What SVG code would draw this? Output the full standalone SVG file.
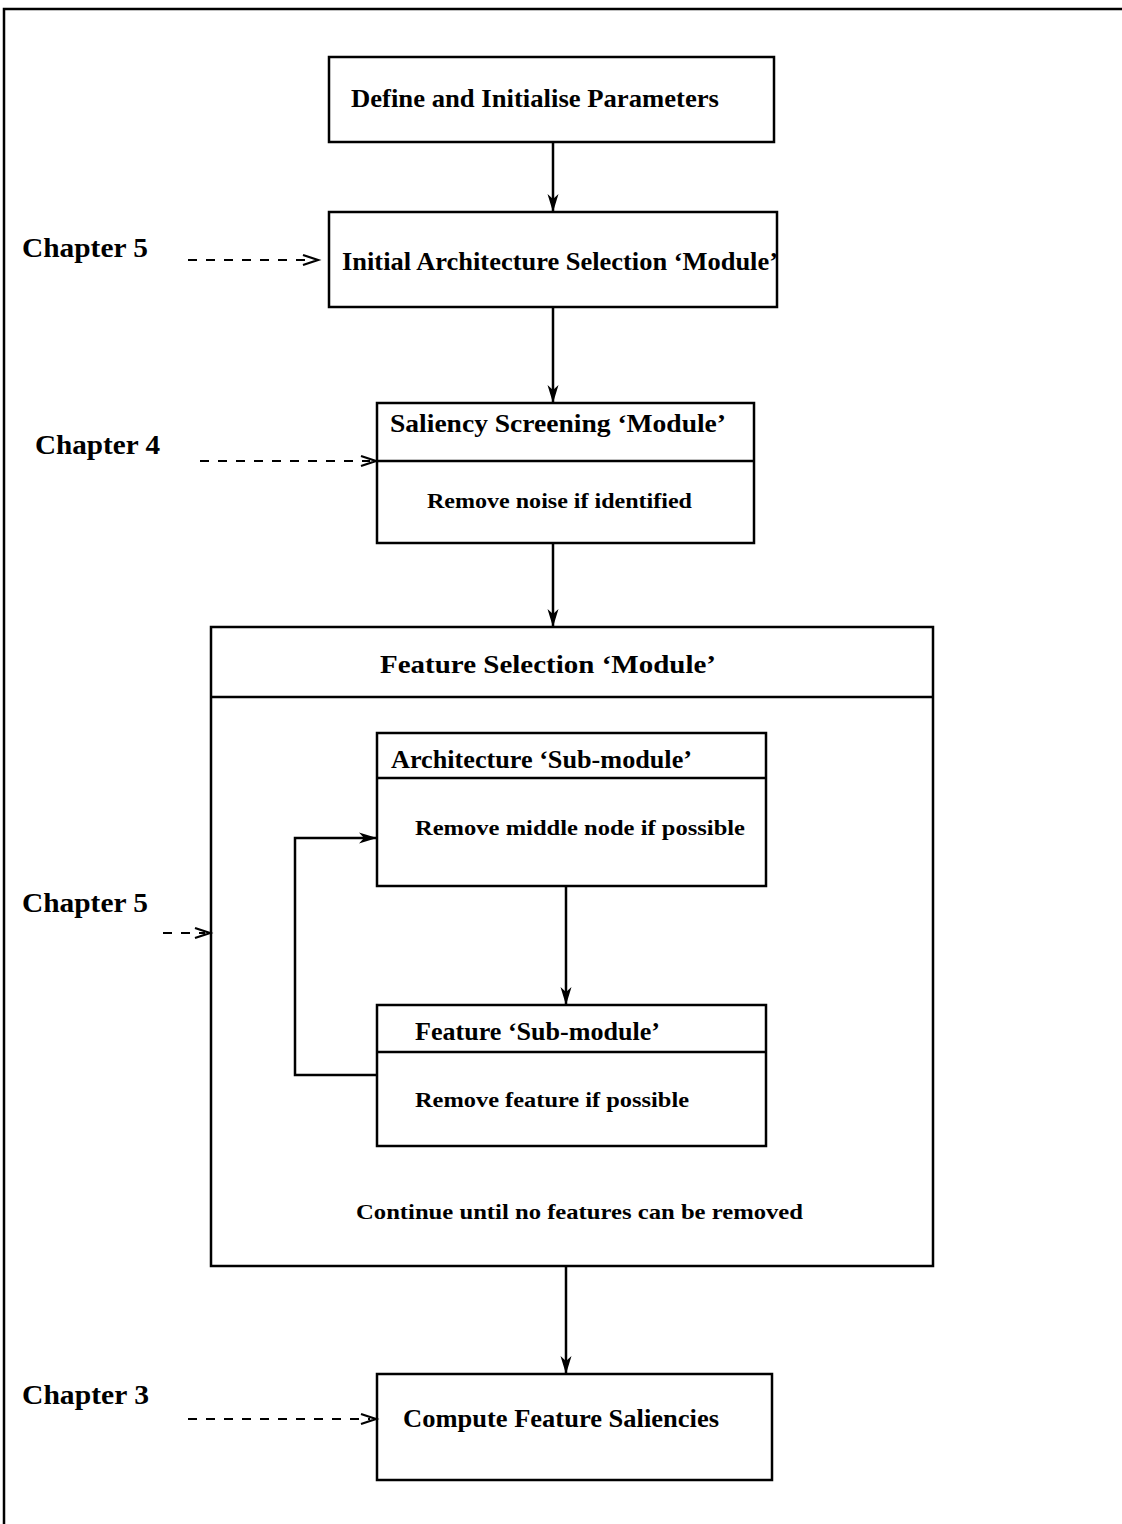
<svg xmlns="http://www.w3.org/2000/svg" width="1122" height="1524" viewBox="0 0 1122 1524">
<style>
.box{fill:none;stroke:#000;stroke-width:2.5}
.ln{fill:none;stroke:#000;stroke-width:2.5}
.dash{fill:none;stroke:#000;stroke-width:2;stroke-dasharray:9,9}
.chev{fill:none;stroke:#000;stroke-width:2.2}
text{font-family:"Liberation Serif","DejaVu Serif",serif;font-weight:bold;fill:#000}
.t{font-size:25px}
.s{font-size:22px}
.c{font-size:27px}
</style>
<defs>
<marker id="ah" viewBox="0 0 18 12" refX="17" refY="6" markerWidth="18" markerHeight="12" markerUnits="userSpaceOnUse" orient="auto">
<path d="M0,0.5 L18,6 L0,11.5 L5,6 Z" fill="#000"/>
</marker>
</defs>
<rect width="1122" height="1524" fill="#fff"/>
<g id="frame">
<path class="ln" d="M4,1524 V9 H1122"/>
</g>
<g id="n1">
<rect class="box" x="329" y="57" width="445" height="85"/>
<text class="t" x="351" y="107" textLength="368" lengthAdjust="spacingAndGlyphs">Define and Initialise Parameters</text>
</g>
<g id="n2">
<rect class="box" x="329" y="212" width="448" height="95"/>
<text class="t" x="342" y="270" textLength="436" lengthAdjust="spacingAndGlyphs">Initial Architecture Selection ‘Module’</text>
</g>
<g id="n3">
<rect class="box" x="377" y="403" width="377" height="140"/>
<line class="ln" x1="377" y1="461" x2="754" y2="461"/>
<text class="t" x="390" y="432" textLength="336" lengthAdjust="spacingAndGlyphs">Saliency Screening ‘Module’</text>
<text class="s" x="427" y="508" textLength="265" lengthAdjust="spacingAndGlyphs">Remove noise if identified</text>
</g>
<g id="n4">
<rect class="box" x="211" y="627" width="722" height="639"/>
<line class="ln" x1="211" y1="697" x2="933" y2="697"/>
<text class="t" x="380" y="673" textLength="336" lengthAdjust="spacingAndGlyphs">Feature Selection ‘Module’</text>
<text class="s" x="356" y="1219" textLength="447" lengthAdjust="spacingAndGlyphs">Continue until no features can be removed</text>
</g>
<g id="n5">
<rect class="box" x="377" y="733" width="389" height="153"/>
<line class="ln" x1="377" y1="778" x2="766" y2="778"/>
<text class="t" x="391" y="768" textLength="301" lengthAdjust="spacingAndGlyphs">Architecture ‘Sub-module’</text>
<text class="s" x="415" y="835" textLength="330" lengthAdjust="spacingAndGlyphs">Remove middle node if possible</text>
</g>
<g id="n6">
<rect class="box" x="377" y="1005" width="389" height="141"/>
<line class="ln" x1="377" y1="1052" x2="766" y2="1052"/>
<text class="t" x="415" y="1040" textLength="245" lengthAdjust="spacingAndGlyphs">Feature ‘Sub-module’</text>
<text class="s" x="415" y="1107" textLength="274" lengthAdjust="spacingAndGlyphs">Remove feature if possible</text>
</g>
<g id="n7">
<rect class="box" x="377" y="1374" width="395" height="106"/>
<text class="t" x="403" y="1427" textLength="316" lengthAdjust="spacingAndGlyphs">Compute Feature Saliencies</text>
</g>
<g id="labels">
<text class="c" x="22" y="257" textLength="126" lengthAdjust="spacingAndGlyphs">Chapter 5</text>
<text class="c" x="35" y="454" textLength="125" lengthAdjust="spacingAndGlyphs">Chapter 4</text>
<text class="c" x="22" y="912" textLength="126" lengthAdjust="spacingAndGlyphs">Chapter 5</text>
<text class="c" x="22" y="1404" textLength="127" lengthAdjust="spacingAndGlyphs">Chapter 3</text>
</g>
<g id="connectors">
<line class="ln" x1="553" y1="142" x2="553" y2="211" marker-end="url(#ah)"/>
<line class="ln" x1="553" y1="307" x2="553" y2="402" marker-end="url(#ah)"/>
<line class="ln" x1="553" y1="543" x2="553" y2="626" marker-end="url(#ah)"/>
<line class="ln" x1="566" y1="886" x2="566" y2="1004" marker-end="url(#ah)"/>
<line class="ln" x1="566" y1="1266" x2="566" y2="1373" marker-end="url(#ah)"/>
<path class="ln" d="M377,1075 H295 V838 H376" marker-end="url(#ah)"/>
<line class="dash" x1="188" y1="260" x2="312" y2="260"/>
<path class="chev" d="M303,255 L318,260 L303,265"/>
<line class="dash" x1="200" y1="461" x2="370" y2="461"/>
<path class="chev" d="M361,456 L376,461 L361,466"/>
<line class="dash" x1="163" y1="933" x2="205" y2="933"/>
<path class="chev" d="M195,928 L210,933 L195,938"/>
<line class="dash" x1="188" y1="1419" x2="370" y2="1419"/>
<path class="chev" d="M361,1414 L376,1419 L361,1424"/>
</g>
</svg>
